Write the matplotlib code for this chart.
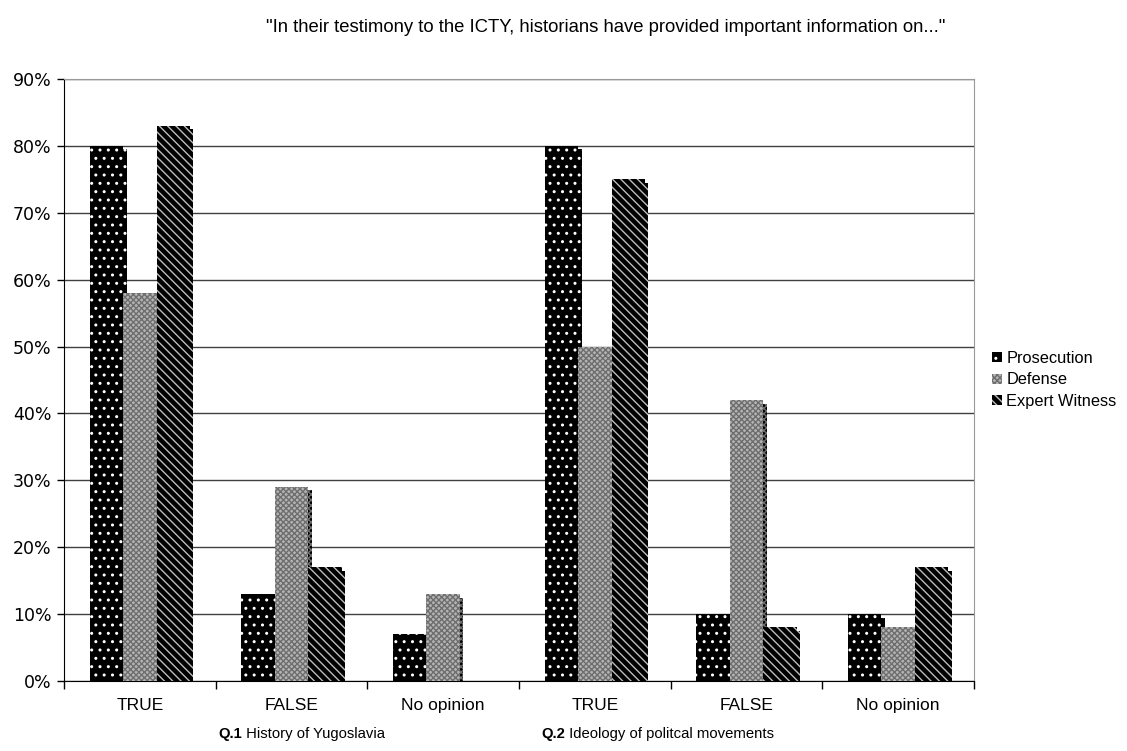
import matplotlib
matplotlib.use("Agg")
import matplotlib.pyplot as plt
import matplotlib.patheffects as pe
from matplotlib.patches import Patch
import numpy as np

# Dane
kategorie = ["TRUE", "FALSE", "No opinion", "TRUE", "FALSE", "No opinion"]
prosecution = [80, 13, 7, 80, 10, 10]
defense = [58, 29, 13, 50, 42, 8]
expert = [83, 17, 0, 75, 8, 17]
serie = ["Prosecution", "Defense", "Expert Witness"]
tytul = '"In their testimony to the ICTY, historians have provided important information on..."'
pytania = [("Q.1", " History of Yugoslavia"), ("Q.2", " Ideology of politcal movements")]

plt.rcParams['font.family'] = ['Liberation Sans', 'DejaVu Sans']
plt.rcParams['hatch.linewidth'] = 1.0

fig = plt.figure(figsize=(11.27, 7.51), dpi=100)
ax = fig.add_axes([64 / 1127, 1 - 681 / 751, (974 - 64) / 1127, (681 - 79) / 751])

x = np.arange(len(kategorie))
w = 0.22
cien = [pe.SimplePatchShadow(offset=(2.5, -2.5), shadow_rgbFace='black', alpha=1.0), pe.Normal()]

style = [
    dict(color='black', edgecolor='white', hatch='..'),
    dict(color='#b4b4b4', edgecolor='#6e6e6e', hatch='xxxxxx'),
    dict(color='black', edgecolor='#bdbdbd', hatch='\\\\\\\\'),
]
for i, vals in enumerate([prosecution, defense, expert]):
    bars = ax.bar(x + (i - 1) * w, vals, w, linewidth=0, zorder=3, **style[i])
    for b in bars:
        if b.get_height() > 0:
            b.set_path_effects(cien)

ax.set_xlim(-0.5, 5.5)
ax.set_ylim(0, 90)
ax.set_yticks(np.arange(0, 91, 10))
ax.set_yticklabels([f"{v}%" for v in range(0, 91, 10)], family='DejaVu Sans', fontsize=12.5)
ax.yaxis.grid(True, color='#404040', linewidth=1.0, zorder=0)
ax.set_axisbelow(True)

ax.set_xticks(x)
ax.set_xticklabels(kategorie, fontsize=12.5)
ax.set_xticks(np.arange(-0.5, 6.0, 1), minor=True)
ax.tick_params(axis='x', which='major', length=0, pad=12)
ax.tick_params(axis='x', which='minor', length=6, direction='out', width=1)
ax.tick_params(axis='y', length=5, direction='out', width=1, pad=4)

for s in ['top', 'right']:
    ax.spines[s].set_color('#999999')
for s in ['left', 'bottom']:
    ax.spines[s].set_color('black')

# Podpisy pytań
for (bold, reszta), px in zip(pytania, [218, 541]):
    t = fig.text(px / 1127, 1 - 738 / 751, bold, fontsize=10.7, fontweight='bold', va='baseline')
    fig.canvas.draw()
    bb = t.get_window_extent()
    fig.text(bb.x1 / 1127, 1 - 738 / 751, reszta, fontsize=10.7, va='baseline')

fig.text(606 / 1127, 1 - 27 / 751, tytul, ha='center', va='center', fontsize=13.3)

uchwyty = [Patch(facecolor=s['color'], edgecolor=s['edgecolor'], hatch=s['hatch'], linewidth=0) for s in style]
fig.legend(uchwyty, serie, loc='center left', bbox_to_anchor=(977 / 1127, 1 - 380 / 751), frameon=False,
           fontsize=11.8, handlelength=0.6, handleheight=0.6, handletextpad=0.3, labelspacing=0.4)

fig.savefig("out.png", dpi=100)
